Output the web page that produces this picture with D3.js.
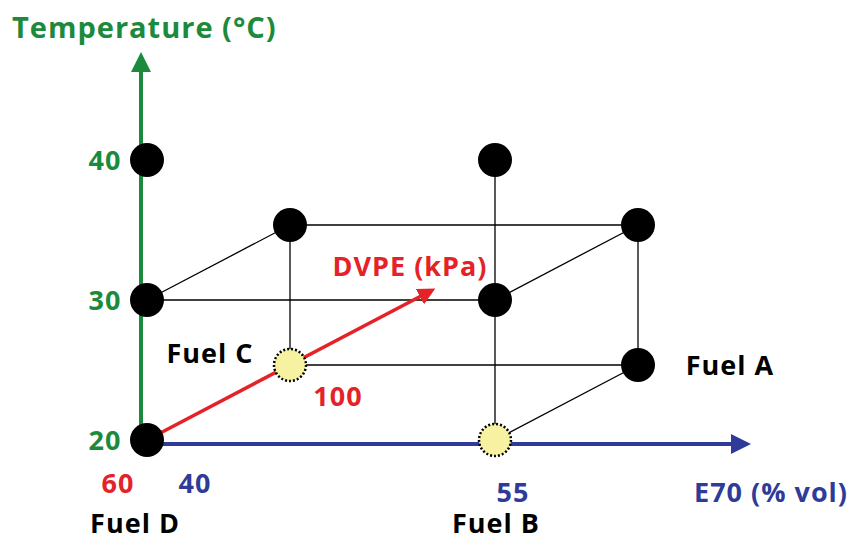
<!DOCTYPE html>
<html><head><meta charset="utf-8">
<script src="https://cdn.jsdelivr.net/npm/d3@7"></script>
<style>body{margin:0;background:#fff}text{font-family:"Open Sans",sans-serif;font-weight:bold;letter-spacing:1px}</style>
</head><body>
<svg id="c" width="852" height="541"></svg>
<script>
// fuels: E70 (% vol), DVPE (kPa)
const fuelNames = ["Fuel D", "Fuel B", "Fuel C", "Fuel A"];
const fuelE70 = [40, 55, 40, 55];
const fuelDVPE = [60, 60, 100, 100];
const tempTicks = [20, 30, 40];
// black points: [e70, dvpe, temp]
const pointsE70 = [40, 40, 40, 55, 55, 40, 55, 55];
const pointsDVPE = [60, 60, 60, 60, 60, 100, 100, 100];
const pointsTemp = [20, 30, 40, 30, 40, 30, 20, 30];
// highlighted (test) points
const testE70 = [55, 40];
const testDVPE = [60, 100];
const testTemp = [20, 20];

const svg = d3.select("#c");
const green = "#1b8a3c", blue = "#2f3b98", red = "#e52228";
const x = d3.scaleLinear().domain([40, 55]).range([147, 495]);
const y = d3.scaleLinear().domain([20, 40]).range([440, 160]);
const dx = d3.scaleLinear().domain([60, 100]).range([0, 143]);
const dy = d3.scaleLinear().domain([60, 100]).range([0, -75]);
const px = (e, d) => x(e) + dx(d);
const py = (t, d) => y(t) + dy(d);

const defs = svg.append("defs");
[["g", green], ["b", blue], ["r", red]].forEach(([id, c]) => {
  defs.append("marker").attr("id", "m" + id).attr("viewBox", "0 0 10 10")
    .attr("refX", 2).attr("refY", 5).attr("markerWidth", 5).attr("markerHeight", 5)
    .attr("orient", "auto").append("path").attr("d", "M0,0L10,5L0,10z").attr("fill", c);
});

// box edges
const edges = [
  [[40,60,30],[55,60,30]], [[40,60,30],[40,100,30]], [[40,100,30],[55,100,30]],
  [[55,60,30],[55,100,30]], [[40,100,30],[40,100,20]], [[40,100,20],[55,100,20]],
  [[55,100,20],[55,100,30]], [[55,60,20],[55,60,40]], [[55,60,20],[55,100,20]]
];
svg.selectAll(".edge").data(edges).join("line")
  .attr("x1", d => px(d[0][0], d[0][1])).attr("y1", d => py(d[0][2], d[0][1]))
  .attr("x2", d => px(d[1][0], d[1][1])).attr("y2", d => py(d[1][2], d[1][1]))
  .attr("stroke", "#000").attr("stroke-width", 1.3);

// axes
svg.append("line").attr("x1", 141).attr("y1", y(20)).attr("x2", 141).attr("y2", 68)
  .attr("stroke", green).attr("stroke-width", 4).attr("marker-end", "url(#mg)");
svg.append("line").attr("x1", x(40)).attr("y1", 444).attr("x2", 735).attr("y2", 444)
  .attr("stroke", blue).attr("stroke-width", 4).attr("marker-end", "url(#mb)");
svg.append("line").attr("x1", px(40, 60)).attr("y1", py(20, 60))
  .attr("x2", px(40, 140) - 10).attr("y2", py(20, 140) + 5)
  .attr("stroke", red).attr("stroke-width", 3.5).attr("marker-end", "url(#mr)");

// points
svg.selectAll(".pt").data(pointsE70).join("circle")
  .attr("cx", (d, i) => px(d, pointsDVPE[i])).attr("cy", (d, i) => py(pointsTemp[i], pointsDVPE[i]))
  .attr("r", 17).attr("fill", "#000");
svg.selectAll(".tp").data(testE70).join("circle")
  .attr("cx", (d, i) => px(d, testDVPE[i])).attr("cy", (d, i) => py(testTemp[i], testDVPE[i]))
  .attr("r", 16).attr("fill", "#f7f2a2").attr("stroke", "#000")
  .attr("stroke-width", 2.5).attr("stroke-dasharray", "2,2");

// text
const t = (s, xx, yy, c, a = "start", fs = 27) => svg.append("text").text(s)
  .attr("x", xx).attr("y", yy).attr("fill", c).attr("text-anchor", a).attr("font-size", fs);
t("Temperature (°C)", 12, 38, green, "start", 29);
tempTicks.forEach(v => t(v, 105, y(v) + 10, green, "middle"));
t(fuelDVPE[0], 118, 493, red, "middle");
t(fuelE70[0], 195, 493, blue, "middle");
t(fuelE70[1], x(55) + 18, 502, blue, "middle");
t(fuelDVPE[2], 338, 406, red, "middle");
t("E70 (% vol)", 848, 502, blue, "end");
t("DVPE (kPa)", 410, 276, red, "middle");
t(fuelNames[0], 135, 533, "#000", "middle");
t(fuelNames[1], 496, 533, "#000", "middle");
t(fuelNames[2], 210, 363, "#000", "middle");
t(fuelNames[3], 730, 375, "#000", "middle");
</script>
</body></html>
